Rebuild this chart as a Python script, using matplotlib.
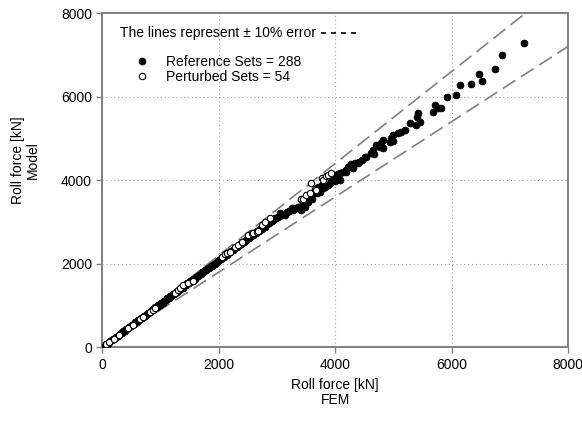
import matplotlib
matplotlib.use('Agg')
import matplotlib.pyplot as plt

# reference sets (filled markers): FEM roll force vs model roll force, kN
ref_fem = [40, 65, 90, 110, 135, 160, 185, 210, 235, 260, 285, 310, 335, 360, 385, 410, 435, 460, 485, 510,
           535, 560, 585, 610, 635, 660, 685, 710, 735, 760, 785, 810, 835, 860, 885, 910, 935, 960, 985,
           1010, 1035, 1060, 1085, 1110, 1135, 1160, 1185, 1210, 1235, 1260, 1285, 1310, 1335, 1360, 1385,
           1410, 1435, 1460, 1485, 1510, 1535, 1560, 1585, 1610, 1635, 1660, 1685, 1710, 1735, 1760, 1785,
           1810, 1835, 1860, 1885, 1910, 1935, 1960, 1985,
           2010, 2035, 2060, 2085, 2110, 2135, 2160, 2185, 2210, 2235, 2260, 2285, 2310, 2335, 2360, 2385,
           2410, 2435, 2460, 2485, 2510, 2535, 2560, 2585, 2610, 2635, 2660, 2685, 2710, 2735, 2760, 2785,
           2810, 2835, 2860, 2885, 2910, 2935, 2960, 2985,
           3010, 3048, 3080, 3134, 3163, 3200, 3249, 3277, 3320, 3363, 3391, 3420, 3448, 3477, 3506, 3540,
           3563, 3600, 3649, 3680, 3705, 3735, 3764, 3791, 3820, 3877, 3906, 3935, 3963, 3992, 4021, 4049,
           4078, 4078, 4135, 4193, 4193, 4220, 4250, 4279, 4307, 4336, 4392, 4410, 4468, 4507, 4536,
           4622, 4650, 4662, 4708, 4765, 4794, 4822, 4822, 4937, 4965, 4994, 4994, 5080, 5137, 5194, 5292,
           5383, 5423, 5452, 5413, 5680, 5720, 5760, 5820, 5927, 6081, 6138, 6333, 6477, 6516, 6751, 6865,
           7249]
ref_model = [40, 75, 88, 120, 140, 170, 190, 225, 240, 275, 290, 330, 345, 380, 395, 435, 450, 485, 500, 540,
             550, 595, 600, 645, 655, 700, 705, 750, 760, 800, 810, 855, 860, 905, 915, 960, 965, 1010, 1020,
             1065, 1070, 1115, 1120, 1170, 1175, 1220, 1230, 1270, 1280, 1325, 1330, 1375, 1385, 1425, 1430,
             1480, 1485, 1530, 1540, 1580, 1590, 1630, 1640, 1690, 1695, 1740, 1745, 1790, 1800, 1840, 1850,
             1895, 1900, 1945, 1950, 2000, 2005, 2050, 2060,
             2100, 2110, 2150, 2165, 2200, 2215, 2255, 2270, 2305, 2320, 2360, 2370, 2410, 2420, 2460, 2475,
             2515, 2525, 2570, 2580, 2615, 2630, 2670, 2680, 2720, 2735, 2775, 2780, 2830, 2835, 2880, 2890,
             2935, 2940, 2985, 2995, 3030, 3045, 3090, 3095,
             3120, 3206, 3160, 3166, 3245, 3260, 3324, 3284, 3330, 3364, 3363, 3284, 3445, 3363, 3523, 3480,
             3602, 3560, 3684, 3700, 3827, 3722, 3882, 3803, 3842, 3882, 3923, 3961, 4042, 3990, 4121, 4145,
             4002, 4176, 4200, 4241, 4200, 4320, 4337, 4385, 4281, 4401, 4401, 4440, 4480, 4545, 4559,
             4654, 4719, 4624, 4839, 4798, 4880, 4760, 4959, 4919, 4998, 4935, 5078, 5117, 5143, 5198, 5358,
             5318, 5597, 5397, 5502, 5640, 5790, 5730, 5720, 5980, 6035, 6281, 6305, 6545, 6370, 6650, 6999,
             7279]

# perturbed sets (open markers)
pert_fem = [60, 120, 200, 290, 443, 520, 644, 700, 816, 872, 901, 1245, 1302, 1331, 1388, 1473, 1559,
            2047, 2103, 2132, 2189, 2275, 2330, 2406, 2503, 2561, 2589, 2647, 2675, 2733, 2790, 2876,
            3420, 3448, 3506, 3563, 3592, 3649, 3678, 3764, 3791, 3849, 3877, 3935]
pert_model = [70, 130, 210, 300, 454, 540, 665, 720, 850, 892, 940, 1292, 1371, 1411, 1490, 1545, 1593,
              2167, 2232, 2249, 2287, 2406, 2450, 2530, 2686, 2727, 2741, 2765, 2789, 2925, 3004, 3086,
              3540, 3560, 3643, 3684, 3937, 3779, 3760, 4057, 4010, 4098, 4121, 4162]

axis_range = [0, 8000]
error_band = [0.9, 1.1]
ticks = [0, 2000, 4000, 6000, 8000]

plt.rcParams['font.family'] = ['Liberation Sans', 'DejaVu Sans']
plt.rcParams['font.size'] = 10

fig = plt.figure(figsize=(5.82, 4.21), dpi=100)
ax = fig.add_axes([0.1761, 0.1751, 0.7998, 0.794])

for f in error_band:
    ax.plot(axis_range, [f * v for v in axis_range], color='#808080', lw=1.2, dashes=(9, 4), zorder=2)

ref, = ax.plot(ref_fem, ref_model, 'o', color='black', ms=5.0, mew=0.5, zorder=3,
               label='Reference Sets = 288')
pert, = ax.plot(pert_fem, pert_model, 'o', mfc='white', mec='black', ms=4.6, mew=0.8, zorder=4,
                label='Perturbed Sets = 54')

ax.set_xlim(axis_range)
ax.set_ylim(axis_range)
ax.set_xticks(ticks)
ax.set_yticks(ticks)
ax.grid(True, linestyle=(0, (1, 2.5)), color='#a0a0a0', lw=0.8)
ax.set_axisbelow(True)
for s in ax.spines.values():
    s.set_color('#808080')
    s.set_linewidth(1.4)
ax.tick_params(direction='out', length=4, width=1, color='#808080', labelsize=10)

ax.set_xlabel('Roll force [kN]\nFEM', linespacing=1.1)
ax.xaxis.set_label_coords(0.5, -0.092)
ax.set_ylabel('Roll force [kN]\nModel', linespacing=1.1)
ax.yaxis.set_label_coords(-0.134, 0.56)

# legend block
ax.text(0.038, 0.940, 'The lines represent \u00b1 10% error', transform=ax.transAxes,
        va='center', ha='left')
ax.plot([0.470, 0.545], [0.940, 0.940], transform=ax.transAxes, color='black', lw=1.2, dashes=(3, 3))
ax.legend(handles=[ref, pert], loc='upper left', bbox_to_anchor=(0.070, 0.874), frameon=False,
          numpoints=1, handlelength=1.0, handletextpad=1.23, labelspacing=0.05,
          borderaxespad=0, borderpad=0)

fig.savefig('out.png', dpi=100)
